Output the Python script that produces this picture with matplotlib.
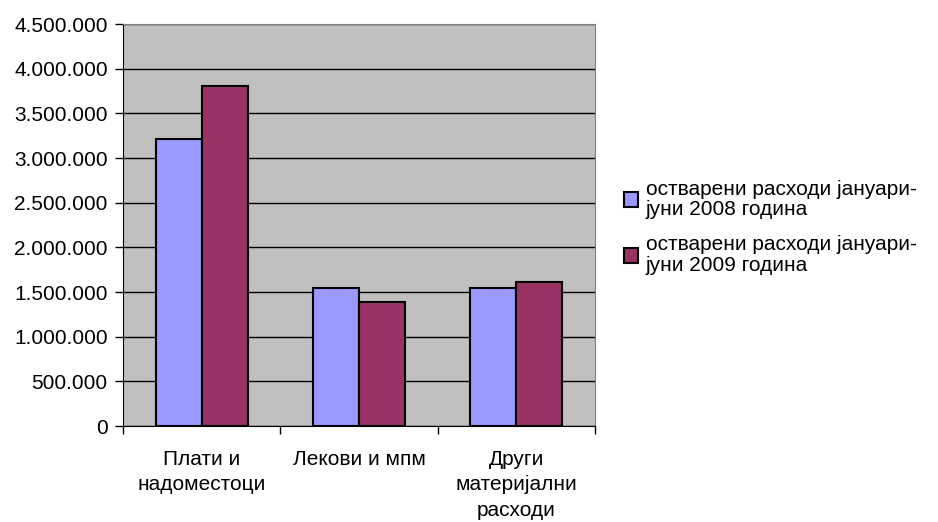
import numpy as np
import matplotlib.pyplot as plt
from matplotlib.ticker import FuncFormatter

# categories and values
categories = ['Плати и\nнадоместоци', 'Лекови и мпм', 'Други\nматеријални\nрасходи']
values_2008 = [3214000, 1542000, 1542000]
values_2009 = [3807000, 1385000, 1609000]
series_names = ['остварени расходи јануари-\nјуни 2008 година',
                'остварени расходи јануари-\nјуни 2009 година']
yticks = np.arange(0, 4500001, 500000)

plt.rcParams['font.family'] = ['Liberation Sans', 'DejaVu Sans']
fs = 15

fig = plt.figure(figsize=(9.38, 5.22), dpi=100)
ax = fig.add_axes([0.1311, 0.1839, 0.5032, 0.7701])
ax.set_facecolor('#C0C0C0')

x = np.arange(len(categories))
w = 0.292
ax.bar(x - w / 2, values_2008, w, color='#9999FF', edgecolor='black', linewidth=1.5,
       label=series_names[0], zorder=3)
ax.bar(x + w / 2, values_2009, w, color='#993366', edgecolor='black', linewidth=1.5,
       label=series_names[1], zorder=3)

ax.set_xlim(-0.5, 2.5)
ax.set_ylim(0, 4500000)
ax.set_yticks(yticks)
ax.yaxis.set_major_formatter(FuncFormatter(lambda v, p: f'{int(v):,}'.replace(',', '.')))
ax.yaxis.grid(True, color='black', linewidth=1, zorder=0)

# category labels between boundary ticks
ax.set_xticks([-0.5, 0.5, 1.5, 2.5])
ax.set_xticklabels([])
ax.set_xticks(x, minor=True)
ax.set_xticklabels(categories, minor=True, fontsize=fs, linespacing=1.45, va='top')
ax.tick_params(axis='x', which='minor', length=0, pad=17)
ax.tick_params(axis='x', which='major', length=6, width=1, direction='out')
ax.tick_params(axis='y', length=6, width=1, direction='out', labelsize=fs, pad=5)

for s in ['top', 'right']:
    ax.spines[s].set_color('#808080')
for s in ['left', 'bottom']:
    ax.spines[s].set_color('black')

leg = fig.legend(loc='upper left', bbox_to_anchor=(0.656, 0.672), frameon=False, fontsize=fs,
                 handlelength=0.7, handleheight=0.7, handletextpad=0.35, labelspacing=0.75,
                 borderaxespad=0)
for t in leg.get_texts():
    t.set_linespacing(1.12)

fig.savefig('out.png', dpi=100)
